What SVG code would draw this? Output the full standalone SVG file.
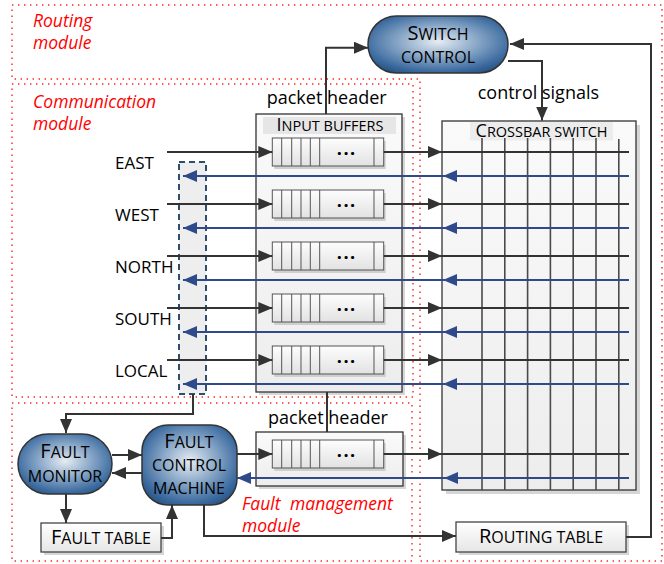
<svg xmlns="http://www.w3.org/2000/svg" width="664" height="564" viewBox="0 0 664 564">
  <defs>
    <style>
      .t { font-family: "Open Sans", "Liberation Sans", sans-serif; fill: #000; }
      .mod-lbl { font-family: "Open Sans", "Liberation Sans", sans-serif; font-style: italic; font-size: 17.5px; fill: #f00; }
      .region { fill: none; stroke: #f22; stroke-width: 1.4; stroke-dasharray: 1.4 4.6; }
      .wire { fill: none; stroke: #333; stroke-width: 2; }
      .wire-b { fill: none; stroke: #2f4a8a; stroke-width: 2; }
      .shadow { fill: #d6d6d6; }
      .blue-node { fill: url(#gBlue); stroke: #333; stroke-width: 1.5; }
      .plain-box { fill: url(#gBox); stroke: #444; stroke-width: 1.3; }
      .cell { stroke: #555; stroke-width: 1; fill: none; }
      .xbar-col { stroke: #4a4a4a; stroke-width: 1.6; }
      .sc { font-size: 16px; }
      .cap { font-size: 20px; }
    </style>
    <radialGradient id="gBlue" cx="0.5" cy="0.45" r="0.62">
      <stop offset="0" stop-color="#e6ecf2"/>
      <stop offset="0.45" stop-color="#8aa8c8"/>
      <stop offset="0.85" stop-color="#3b6a9f"/>
      <stop offset="1" stop-color="#2a5585"/>
    </radialGradient>
    <linearGradient id="gBox" x1="0" y1="0" x2="0" y2="1">
      <stop offset="0" stop-color="#ffffff"/>
      <stop offset="1" stop-color="#e6e6e6"/>
    </linearGradient>
    <linearGradient id="gPanel" x1="0" y1="0" x2="0" y2="1">
      <stop offset="0" stop-color="#fafafa"/>
      <stop offset="1" stop-color="#ededed"/>
    </linearGradient>
    <linearGradient id="gCell" x1="0" y1="0" x2="0" y2="1">
      <stop offset="0" stop-color="#fdfdfd"/>
      <stop offset="1" stop-color="#e2e2e2"/>
    </linearGradient>
    <marker id="ah" markerUnits="userSpaceOnUse" markerWidth="14" markerHeight="12" refX="14" refY="6" orient="auto">
      <path d="M0,0 L14,6 L0,12 Z" fill="#333"/>
    </marker>
    <marker id="ahb" markerUnits="userSpaceOnUse" markerWidth="14" markerHeight="12" refX="14" refY="6" orient="auto">
      <path d="M0,0 L14,6 L0,12 Z" fill="#2f4a8a"/>
    </marker>
    <!-- one FIFO queue: five small slots, a wide slot with dots, one end slot -->
    <g id="queue">
      <rect x="2" y="3" width="111.4" height="28" fill="#cfcfcf"/>
      <rect x="0" y="0" width="111.4" height="28" fill="url(#gCell)" stroke="#555" stroke-width="1"/>
      <path class="cell" d="M9.4,0 V28 M19.4,0 V28 M28.7,0 V28 M38,0 V28 M47.4,0 V28 M101.7,0 V28"/>
      <text class="t" x="74.5" y="16.5" font-size="18" font-weight="bold" letter-spacing="1.5" text-anchor="middle">...</text>
    </g>
  </defs>

  <rect width="664" height="564" fill="#fff"/>

  <!-- module regions -->
  <g id="regions">
    <path class="region" d="M12,5 H662 V561 H420 V79 H12 Z"/>
    <rect class="region" x="12" y="84" width="401" height="313"/>
    <rect class="region" x="12" y="403" width="400" height="158"/>
    <text class="mod-lbl" x="33" y="26.5">Routing</text>
    <text class="mod-lbl" x="33" y="48.5">module</text>
    <text class="mod-lbl" x="33" y="108">Communication</text>
    <text class="mod-lbl" x="33" y="130">module</text>
    <text class="mod-lbl" x="242" y="510"><tspan>Fault</tspan><tspan x="290">management</tspan></text>
    <text class="mod-lbl" x="242" y="532">module</text>
  </g>

  <!-- port names -->
  <g id="ports" class="t" font-size="17">
    <text x="115" y="169">EAST</text>
    <text x="115" y="221">WEST</text>
    <text x="115" y="273">NORTH</text>
    <text x="115" y="325">SOUTH</text>
    <text x="115" y="377">LOCAL</text>
  </g>

  <!-- input/output port selector -->
  <g id="port-mux">
    <rect x="179" y="162" width="27" height="232" fill="#eeeeee" stroke="#2d4f6f" stroke-width="2" stroke-dasharray="6 4"/>
  </g>

  <!-- input buffers -->
  <g id="input-buffers">
    <rect class="shadow" x="259" y="117" width="146" height="278"/>
    <rect x="256" y="114" width="146" height="278" fill="url(#gPanel)" stroke="#333" stroke-width="1.3"/>
    <rect x="263" y="117" width="133" height="17" fill="#e6e6e6"/>
    <text class="t" x="330" y="131" text-anchor="middle"><tspan font-size="18">I</tspan><tspan font-size="14.5">NPUT BUFFERS</tspan></text>
    <use href="#queue" x="272.3" y="138"/>
    <use href="#queue" x="272.3" y="190"/>
    <use href="#queue" x="272.3" y="242"/>
    <use href="#queue" x="272.3" y="294"/>
    <use href="#queue" x="272.3" y="346"/>
  </g>

  <!-- header buffer of the fault path -->
  <g id="fault-buffer">
    <rect class="shadow" x="259" y="435" width="147" height="54"/>
    <rect x="256" y="432" width="147" height="54" fill="url(#gPanel)" stroke="#333" stroke-width="1.3"/>
    <use href="#queue" x="272.3" y="440"/>
  </g>

  <!-- crossbar -->
  <g id="crossbar">
    <rect class="shadow" x="446" y="125" width="194" height="369"/>
    <rect x="442" y="121" width="194" height="369" fill="url(#gPanel)" stroke="#333" stroke-width="1.3"/>
    <rect x="470" y="122" width="143" height="18.5" fill="#ececec"/>
    <g class="xbar-col">
      <line x1="482" y1="138" x2="482" y2="490"/>
      <line x1="504.8" y1="138" x2="504.8" y2="490"/>
      <line x1="527.6" y1="138" x2="527.6" y2="490"/>
      <line x1="550.4" y1="138" x2="550.4" y2="490"/>
      <line x1="573.2" y1="138" x2="573.2" y2="490"/>
      <line x1="596" y1="138" x2="596" y2="490"/>
      <line x1="618.8" y1="139" x2="618.8" y2="490"/>
    </g>
    <text class="t" x="541.5" y="136.7" text-anchor="middle"><tspan font-size="18">C</tspan><tspan font-size="14.5">ROSSBAR SWITCH</tspan></text>
  </g>

  <!-- switch control -->
  <g id="switch-control">
    <rect class="blue-node" x="368" y="16" width="140" height="57" rx="28.5"/>
    <text class="t" x="438" y="39.5" text-anchor="middle"><tspan class="cap">S</tspan><tspan class="sc">WITCH</tspan></text>
    <text class="t sc" x="438" y="62.5" text-anchor="middle">CONTROL</text>
  </g>

  <!-- fault monitor -->
  <g id="fault-monitor">
    <rect class="blue-node" x="18" y="434" width="94" height="60" rx="30"/>
    <text class="t" x="65" y="458" text-anchor="middle"><tspan class="cap">F</tspan><tspan class="sc">AULT</tspan></text>
    <text class="t sc" x="65" y="482" text-anchor="middle">MONITOR</text>
  </g>

  <!-- fault control machine -->
  <g id="fault-control">
    <rect class="blue-node" x="142" y="425" width="95" height="80" rx="26"/>
    <text class="t" x="189" y="447.5" text-anchor="middle"><tspan class="cap">F</tspan><tspan class="sc">AULT</tspan></text>
    <text class="t sc" x="189" y="470.5" text-anchor="middle">CONTROL</text>
    <text class="t sc" x="189" y="494" text-anchor="middle" font-size="15.5">MACHINE</text>
  </g>

  <!-- fault table -->
  <g id="fault-table">
    <rect class="shadow" x="44" y="526" width="120" height="29"/>
    <rect class="plain-box" x="41" y="523" width="120" height="29"/>
    <text class="t" x="101" y="543.5" text-anchor="middle"><tspan class="cap">F</tspan><tspan class="sc">AULT TABLE</tspan></text>
  </g>

  <!-- routing table -->
  <g id="routing-table">
    <rect class="shadow" x="459" y="525" width="170" height="30"/>
    <rect class="plain-box" x="456" y="522" width="170" height="30"/>
    <text class="t" x="541" y="542.5" text-anchor="middle"><tspan class="cap">R</tspan><tspan class="sc">OUTING TABLE</tspan></text>
  </g>

  <!-- connectors -->
  <g id="connectors">
    <!-- incoming ports to buffers -->
    <path class="wire" d="M167,152 H272.3" marker-end="url(#ah)"/>
    <path class="wire" d="M167,204 H272.3" marker-end="url(#ah)"/>
    <path class="wire" d="M167,256 H272.3" marker-end="url(#ah)"/>
    <path class="wire" d="M167,308 H272.3" marker-end="url(#ah)"/>
    <path class="wire" d="M167,360 H272.3" marker-end="url(#ah)"/>
    <path class="wire" d="M237,454 H272.3" marker-end="url(#ah)"/>
    <!-- buffers to crossbar rows -->
    <path class="wire" d="M383.7,152 H442" marker-end="url(#ah)"/>
    <path class="wire" d="M383.7,204 H442" marker-end="url(#ah)"/>
    <path class="wire" d="M383.7,256 H442" marker-end="url(#ah)"/>
    <path class="wire" d="M383.7,308 H442" marker-end="url(#ah)"/>
    <path class="wire" d="M383.7,360 H442" marker-end="url(#ah)"/>
    <path class="wire" d="M383.7,454 H442" marker-end="url(#ah)"/>
    <path class="wire" d="M442,152 H629 M442,204 H629 M442,256 H629 M442,308 H629 M442,360 H629 M442,454 H629"/>
    <!-- crossbar outputs back to ports -->
    <path class="wire-b" d="M629,176 H443" marker-end="url(#ahb)"/>
    <path class="wire-b" d="M443,176 H183" marker-end="url(#ahb)"/>
    <path class="wire-b" d="M629,228 H443" marker-end="url(#ahb)"/>
    <path class="wire-b" d="M443,228 H183" marker-end="url(#ahb)"/>
    <path class="wire-b" d="M629,280 H443" marker-end="url(#ahb)"/>
    <path class="wire-b" d="M443,280 H183" marker-end="url(#ahb)"/>
    <path class="wire-b" d="M629,332 H443" marker-end="url(#ahb)"/>
    <path class="wire-b" d="M443,332 H183" marker-end="url(#ahb)"/>
    <path class="wire-b" d="M629,384 H443" marker-end="url(#ahb)"/>
    <path class="wire-b" d="M443,384 H183" marker-end="url(#ahb)"/>
    <path class="wire-b" d="M629,478 H444" marker-end="url(#ahb)"/>
    <path class="wire-b" d="M444,478 H237" marker-end="url(#ahb)"/>
    <!-- control paths -->
    <path class="wire" d="M326,114 V47.7 H368" marker-end="url(#ah)"/>
    <path class="wire" d="M508,61 H542 V120.5" marker-end="url(#ah)"/>
    <path class="wire" d="M626,537 H651 V44 H510" marker-end="url(#ah)"/>
    <path class="wire" d="M327,392 V432"/>
    <!-- fault management paths -->
    <path class="wire" d="M193,394 V414 H66 V433" marker-end="url(#ah)"/>
    <path class="wire" d="M112,455 H142" marker-end="url(#ah)"/>
    <path class="wire" d="M142,473 H112" marker-end="url(#ah)"/>
    <path class="wire" d="M66,494 V523" marker-end="url(#ah)"/>
    <path class="wire" d="M161,538 H172 V505" marker-end="url(#ah)"/>
    <path class="wire" d="M204,505 V536 H456" marker-end="url(#ah)"/>
  </g>

  <!-- connector labels -->
  <g id="connector-labels" class="t" font-size="18">
    <text x="266.7" y="103.5">packet header</text>
    <text x="268" y="423.5">packet header</text>
    <text x="477.7" y="98.5">control signals</text>
  </g>
</svg>
